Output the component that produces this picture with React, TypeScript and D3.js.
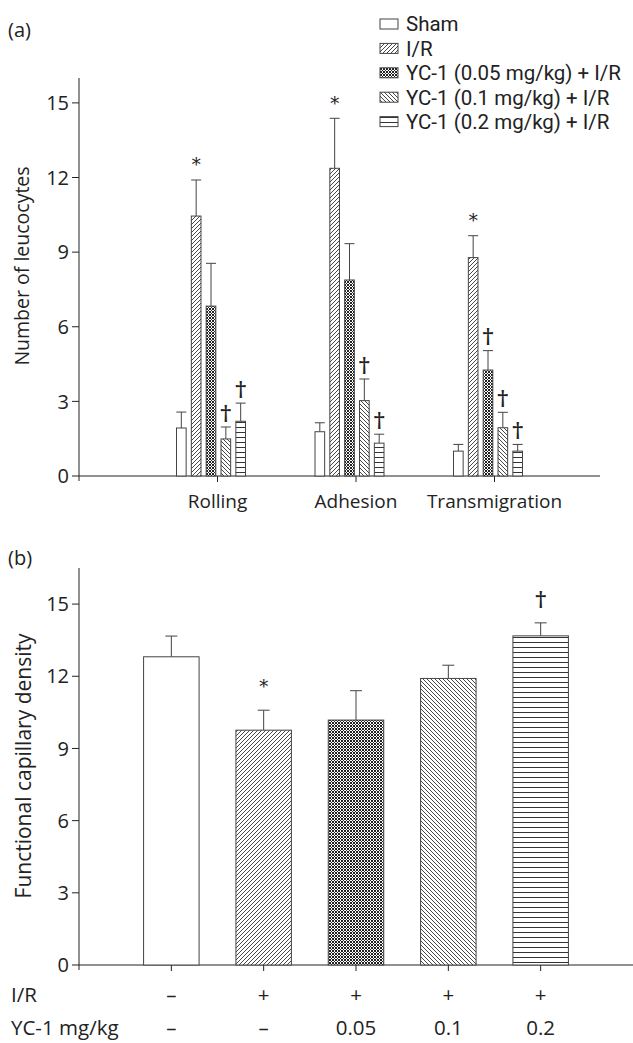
import React from "react";
import * as d3 from "d3";

// panel (a) – leucocyte counts
const categories = ["Rolling", "Adhesion", "Transmigration"];
const groups = [
  "Sham",
  "I/R",
  "YC-1 (0.05 mg/kg) + I/R",
  "YC-1 (0.1 mg/kg) + I/R",
  "YC-1 (0.2 mg/kg) + I/R",
];
const rollingMean = [1.93, 10.45, 6.83, 1.49, 2.2];
const rollingErr = [0.64, 1.45, 1.72, 0.48, 0.73];
const adhesionMean = [1.78, 12.37, 7.88, 3.03, 1.32];
const adhesionErr = [0.36, 2.01, 1.46, 0.87, 0.36];
const transMean = [1.0, 8.78, 4.26, 1.94, 1.0];
const transErr = [0.27, 0.88, 0.78, 0.62, 0.27];
const rollingMarks = ["", "*", "", "†", "†"];
const adhesionMarks = ["", "*", "", "†", "†"];
const transMarks = ["", "*", "†", "†", "†"];

// panel (b) – functional capillary density
const fcdMean = [12.81, 9.76, 10.18, 11.91, 13.68];
const fcdErr = [0.86, 0.83, 1.22, 0.55, 0.54];
const fcdMarks = ["", "*", "", "", "†"];
const irRow = ["–", "+", "+", "+", "+"];
const yc1Row = ["–", "–", "0.05", "0.1", "0.2"];

const yTicks = [0, 3, 6, 9, 12, 15];

const fills = ["url(#pSham)", "url(#pIR)", "url(#pCross)", "url(#pBack)", "url(#pHoriz)"];
const FONT = "'Open Sans', 'Noto Sans', sans-serif";
const INK = "#222";
const EDGE = "#444";

const Patterns = () => (
  <defs>
    <pattern id="pSham" patternUnits="userSpaceOnUse" width="4" height="4">
      <rect width="4" height="4" fill="#fff" />
    </pattern>
    <pattern id="pIR" patternUnits="userSpaceOnUse" width="4" height="4">
      <rect width="4" height="4" fill="#fff" />
      <path d="M-1,1 l2,-2 M0,4 l4,-4 M3,5 l2,-2" stroke="#333" strokeWidth="0.9" />
    </pattern>
    <pattern id="pCross" patternUnits="userSpaceOnUse" width="3" height="3">
      <rect width="3" height="3" fill="#fff" />
      <path d="M0,0 l3,3 M0,3 l3,-3" stroke="#222" strokeWidth="1" />
    </pattern>
    <pattern id="pBack" patternUnits="userSpaceOnUse" width="4" height="4">
      <rect width="4" height="4" fill="#fff" />
      <path d="M-1,3 l2,2 M0,0 l4,4 M3,-1 l2,2" stroke="#333" strokeWidth="0.9" />
    </pattern>
    <pattern id="pHoriz" patternUnits="userSpaceOnUse" width="5" height="5">
      <rect width="5" height="5" fill="#fff" />
      <line x1="0" x2="5" y1="2.5" y2="2.5" stroke="#333" strokeWidth="1" />
    </pattern>
  </defs>
);

const YAxis = ({ y, x0, top }: { y: d3.ScaleLinear<number, number>; x0: number; top: number }) => (
  <g>
    <line x1={x0} x2={x0} y1={top} y2={y(0) + 5} stroke={INK} />
    {yTicks.map((t) => (
      <g key={t}>
        <line x1={x0 - 7} x2={x0} y1={y(t)} y2={y(t)} stroke={INK} />
        <text x={x0 - 10} y={y(t)} dy="0.36em" textAnchor="end" fontSize={20} fill={INK}>
          {t}
        </text>
      </g>
    ))}
  </g>
);

export default function App() {
  const x0 = 79;

  // ---------- panel (a)
  const yA = d3.scaleLinear().domain([0, 16]).range([476, 78]);
  const xA = d3.scalePoint().domain(categories).range([x0, 633]).padding(1);
  const inner = d3.scaleBand().domain(groups).range([-41, 28]).paddingInner(0.35);
  const aMeans = [rollingMean, adhesionMean, transMean];
  const aErrs = [rollingErr, adhesionErr, transErr];
  const aMarks = [rollingMarks, adhesionMarks, transMarks];

  // ---------- panel (b)
  const yB = d3.scaleLinear().domain([0, 16.5]).range([965, 568]);
  const xB = d3.scalePoint().domain(groups).range([x0, 633]).padding(1);
  const bw = 55.5;

  return (
    <svg
      width={633}
      height={1043}
      style={{ position: "absolute", left: 0, top: 0, background: "#fff" }}
      fontFamily={FONT}
    >
      <Patterns />

      {/* (a) */}
      <text x={8} y={30} dy="0.36em" fontSize={20} fill={INK}>(a)</text>
      <YAxis y={yA} x0={x0} top={78} />
      <line x1={x0} x2={600} y1={yA(0)} y2={yA(0)} stroke={INK} />
      <text
        transform={`translate(22,266) rotate(-90)`}
        textAnchor="middle"
        dy="0.36em"
        fontSize={19.5}
        fill={INK}
      >
        Number of leucocytes
      </text>
      {categories.map((c, ci) => {
        const cx = xA(c)!;
        return (
          <g key={c}>
            <line x1={cx} x2={cx} y1={yA(0)} y2={yA(0) + 6} stroke={INK} />
            <text x={cx} y={501} dy="0.36em" textAnchor="middle" fontSize={19} fill={INK}>
              {c}
            </text>
            {groups.map((g, gi) => {
              const bx = cx + inner(g)!;
              const w = inner.bandwidth();
              const m = aMeans[ci][gi];
              const e = aErrs[ci][gi];
              const mid = bx + w / 2;
              return (
                <g key={g}>
                  <line x1={mid} x2={mid} y1={yA(m)} y2={yA(m + e)} stroke={EDGE} />
                  <line x1={mid - 5} x2={mid + 5} y1={yA(m + e)} y2={yA(m + e)} stroke={EDGE} />
                  <rect
                    x={bx}
                    y={yA(m)}
                    width={w}
                    height={yA(0) - yA(m)}
                    fill={fills[gi]}
                    stroke={EDGE}
                    strokeWidth={1}
                  />
                  {aMarks[ci][gi] && (
                    <text
                      x={mid}
                      y={yA(m + e) - 15}
                      dy="0.36em"
                      textAnchor="middle"
                      fontSize={aMarks[ci][gi] === "*" ? 18 : 21}
                      fontFamily="'DejaVu Serif', serif"
                      fontWeight={aMarks[ci][gi] === "†" ? "bold" : "normal"}
                      fill={INK}
                    >
                      {aMarks[ci][gi]}
                    </text>
                  )}
                </g>
              );
            })}
          </g>
        );
      })}
      {/* legend */}
      {groups.map((g, gi) => {
        const ly = 24 + gi * 24.4;
        return (
          <g key={g}>
            <rect x={380} y={ly - 5} width={18} height={10} fill={fills[gi]} stroke={EDGE} />
            <text x={406} y={ly} dy="0.36em" fontSize={20.5} fontFamily="Roboto, 'Open Sans', sans-serif" fill={INK}>
              {g}
            </text>
          </g>
        );
      })}

      {/* (b) */}
      <text x={8} y={558} dy="0.36em" fontSize={20} fill={INK}>(b)</text>
      <YAxis y={yB} x0={x0} top={568} />
      <line x1={x0} x2={633} y1={yB(0)} y2={yB(0)} stroke={INK} />
      <text
        transform={`translate(23,766) rotate(-90)`}
        textAnchor="middle"
        dy="0.36em"
        fontSize={21}
        fill={INK}
      >
        Functional capillary density
      </text>
      {groups.map((g, gi) => {
        const cx = xB(g)!;
        const m = fcdMean[gi];
        const e = fcdErr[gi];
        return (
          <g key={g}>
            <line x1={cx} x2={cx} y1={yB(0)} y2={yB(0) + 6} stroke={INK} />
            <line x1={cx} x2={cx} y1={yB(m)} y2={yB(m + e)} stroke={EDGE} />
            <line x1={cx - 6} x2={cx + 6} y1={yB(m + e)} y2={yB(m + e)} stroke={EDGE} />
            <rect
              x={cx - bw / 2}
              y={yB(m)}
              width={bw}
              height={yB(0) - yB(m)}
              fill={fills[gi]}
              stroke={EDGE}
            />
            {fcdMarks[gi] && (
              <text
                x={cx}
                y={yB(m + e) - 24}
                dy="0.36em"
                textAnchor="middle"
                fontSize={fcdMarks[gi] === "*" ? 18 : 21}
                fontFamily="'DejaVu Serif', serif"
                fontWeight={fcdMarks[gi] === "†" ? "bold" : "normal"}
                fill={INK}
              >
                {fcdMarks[gi]}
              </text>
            )}
            <text x={cx} y={995} dy="0.36em" textAnchor="middle" fontSize={20.5} fill={INK}>
              {irRow[gi]}
            </text>
            <text x={cx} y={1028} dy="0.36em" textAnchor="middle" fontSize={20.5} fill={INK}>
              {yc1Row[gi]}
            </text>
          </g>
        );
      })}
      <text x={11} y={995} dy="0.36em" fontSize={20.5} fill={INK}>I/R</text>
      <text x={11} y={1028} dy="0.36em" fontSize={20.5} fill={INK}>YC-1 mg/kg</text>
    </svg>
  );
}
